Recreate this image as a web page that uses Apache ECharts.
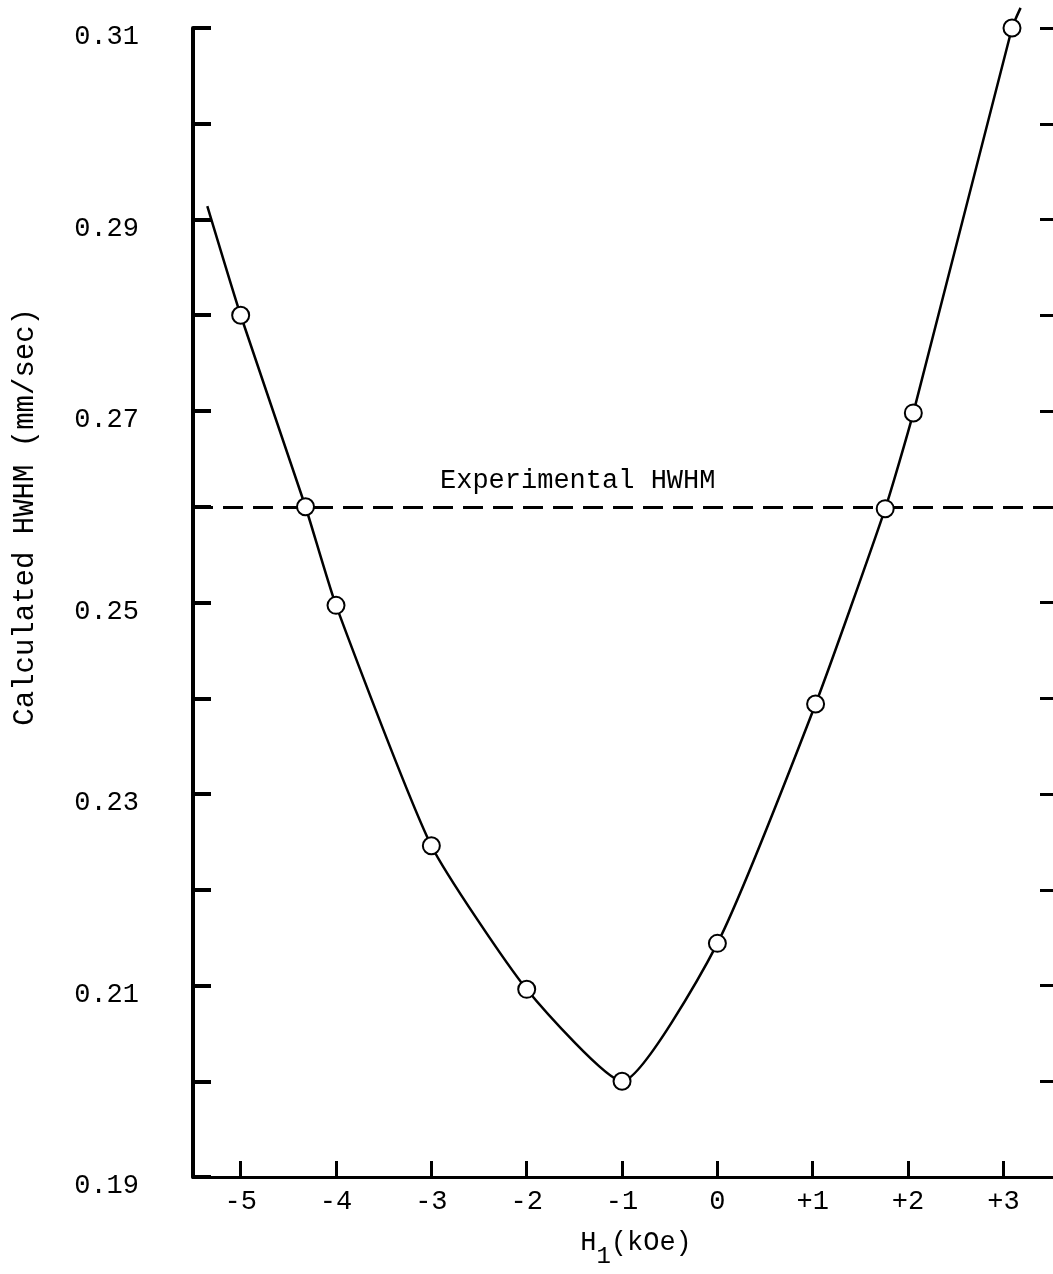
<!DOCTYPE html>
<html>
<head>
<meta charset="utf-8">
<script src="https://cdn.jsdelivr.net/npm/echarts@6/dist/echarts.min.js"></script>
<style>
  html, body { margin: 0; padding: 0; background: #fff; }
  #chart { width: 1053px; height: 1274px; }
</style>
</head>
<body>
<div id="chart"></div>
<script>
// measured points: H1 (kOe) vs calculated HWHM (mm/sec)
const hField = [-5, -4.32, -4, -3, -2, -1, 0, 1.03, 1.76, 2.055, 3.09]
const hwhm = [0.28, 0.26, 0.2497, 0.2246, 0.2096, 0.2, 0.2144, 0.2394, 0.2598, 0.2698, 0.31]

// hand-drawn curve, runs a little past the first and last points
const curveField = [-5.35, -5, -4.32, -4, -3, -2, -1, 0, 1.03, 1.76, 2.055, 3.09, 3.18]
const curveHwhm = [0.2914, 0.28, 0.26, 0.2497, 0.2246, 0.2096, 0.2, 0.2144, 0.2394, 0.2598, 0.2698, 0.31, 0.3121]

const experimentalHwhm = 0.26

const xTicks = [-5, -4, -3, -2, -1, 0, 1, 2, 3]
const yLabelTicks = [0.19, 0.21, 0.23, 0.25, 0.27, 0.29, 0.31]
const yTicks = [0.19, 0.2, 0.21, 0.22, 0.23, 0.24, 0.25, 0.26, 0.27, 0.28, 0.29, 0.3, 0.31]

const font = '"Liberation Mono", "DejaVu Sans Mono", monospace'

const chart = echarts.init(document.getElementById('chart'))

const option = {
  backgroundColor: '#fff',
  animation: false,
  grid: { left: 193, right: 0, top: 28, bottom: 94 },
  xAxis: {
    type: 'value',
    min: -5.5,
    max: 3.52,
    splitLine: { show: false },
    axisLine: { onZero: false, lineStyle: { color: '#000', width: 3 } },
    axisTick: {
      inside: true,
      length: 16,
      customValues: xTicks,
      lineStyle: { color: '#000', width: 3 }
    },
    axisLabel: {
      customValues: xTicks,
      color: '#000',
      fontFamily: font,
      fontSize: 27,
      margin: 11,
      formatter: v => (v > 0 ? '+' + v : String(v))
    },
    name: '{h|H}{s|1}{h|(kOe)}',
    nameLocation: 'middle',
    nameGap: 52,
    nameTextStyle: {
      padding: [0, 0, 0, 26],
      rich: {
        h: { fontFamily: font, fontSize: 27, color: '#000', verticalAlign: 'top', lineHeight: 40 },
        s: { fontFamily: font, fontSize: 24, color: '#000', verticalAlign: 'bottom', lineHeight: 40 }
      }
    }
  },
  yAxis: [
    {
      type: 'value',
      position: 'left',
      min: 0.19,
      max: 0.31,
      splitLine: { show: false },
      axisLine: { onZero: false, lineStyle: { color: '#000', width: 4 } },
      axisTick: {
        inside: true,
        length: 18,
        customValues: yTicks,
        lineStyle: { color: '#000', width: 4 }
      },
      axisLabel: {
        customValues: yLabelTicks,
        showMinLabel: true,
        showMaxLabel: true,
        color: '#000',
        fontFamily: font,
        fontSize: 27,
        margin: 54,
        verticalAlign: 'top',
        lineHeight: 18,
        formatter: v => v.toFixed(2)
      }
    },
    {
      type: 'value',
      position: 'right',
      min: 0.19,
      max: 0.31,
      splitLine: { show: false },
      axisLine: { show: false, onZero: false },
      axisTick: {
        show: true,
        inside: true,
        length: 13,
        customValues: yTicks.slice(1),
        lineStyle: { color: '#000', width: 3 }
      },
      axisLabel: { show: false }
    }
  ],
  graphic: [
    {
      type: 'text',
      left: 11,
      top: 308,
      rotation: Math.PI / 2,
      style: {
        text: 'Calculated HWHM (mm/sec)',
        font: '29px ' + font,
        fill: '#000'
      }
    }
  ],
  series: [
    {
      type: 'line',
      data: curveField.map((h, i) => [h, curveHwhm[i]]),
      smooth: 0.18,
      showSymbol: false,
      clip: false,
      lineStyle: { color: '#000', width: 2.5 },
      markLine: {
        silent: true,
        symbol: 'none',
        data: [{ yAxis: experimentalHwhm }],
        lineStyle: { color: '#000', width: 3, type: [20, 10] },
        label: {
          formatter: 'Experimental HWHM',
          position: 'insideStartTop',
          distance: [247, 12],
          color: '#000',
          fontFamily: font,
          fontSize: 27
        }
      }
    },
    {
      type: 'scatter',
      data: hField.map((h, i) => [h, hwhm[i]]),
      symbol: 'circle',
      symbolSize: 17,
      clip: false,
      z: 5,
      itemStyle: { color: '#fff', opacity: 1, borderColor: '#000', borderWidth: 2 }
    }
  ]
}

chart.setOption(option)
</script>
</body>
</html>
